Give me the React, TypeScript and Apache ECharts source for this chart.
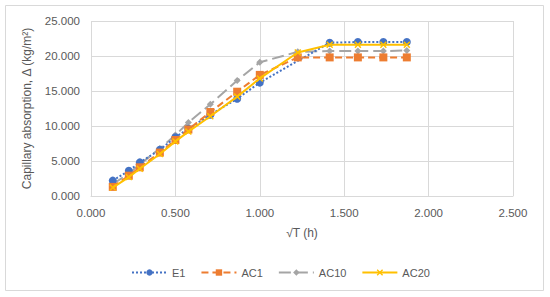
import React, { useEffect, useRef } from "react";
import * as echarts from "echarts";

const xValues = [0.129, 0.224, 0.289, 0.408, 0.5, 0.577, 0.707, 0.866, 1.0, 1.225, 1.414, 1.581, 1.732, 1.871];
const e1 = [2.2, 3.6, 4.8, 6.6, 8.4, 9.6, 11.6, 13.9, 16.2, null, 21.9, 22.0, 22.0, 22.0];
const ac1 = [1.3, 2.9, 4.1, 6.2, 8.0, 9.5, 12.0, 14.9, 17.3, 19.8, 19.8, 19.8, 19.8, 19.8];
const ac10 = [1.7, 3.2, 4.5, 6.8, 8.7, 10.5, 13.1, 16.5, 19.1, 20.6, 20.7, 20.7, 20.7, 20.8];
const ac20 = [1.2, 2.7, 3.9, 6.0, 7.8, 9.2, 11.4, 14.2, 16.8, 20.5, 21.6, 21.6, 21.6, 21.6];

const xName = "√T (h)";
const yName = "Capillary absorption, Δ (kg/m²)";

const pair = (ys: (number | null)[]) => xValues.map((x, i) => [x, ys[i] === null ? "-" : ys[i]]);

const FONT = "Liberation Sans";
const LABEL = "#595959";
const GRID = "#d9d9d9";

export default function App() {
  const ref = useRef<HTMLDivElement>(null);
  useEffect(() => {
    if (!ref.current) return;
    const chart = echarts.init(ref.current, null, { renderer: "svg" });
    const xPath = "path://M0,1.5 L1.5,0 L5,3.5 L8.5,0 L10,1.5 L6.5,5 L10,8.5 L8.5,10 L5,6.5 L1.5,10 L0,8.5 L3.5,5 Z";
    chart.setOption({
      animation: false,
      textStyle: { fontFamily: FONT },
      graphic: [
        {
          type: "rect",
          shape: { x: 5.5, y: 5.5, width: 538, height: 285 },
          style: { fill: "none", stroke: GRID, lineWidth: 1 },
          silent: true,
        },
      ],
      grid: { left: 91, right: 37, top: 21, bottom: 101 },
      xAxis: {
        type: "value",
        min: 0,
        max: 2.5,
        interval: 0.5,
        name: xName,
        nameLocation: "middle",
        nameGap: 31,
        nameTextStyle: { color: LABEL, fontSize: 12, fontFamily: FONT },
        axisLine: { show: true, lineStyle: { color: GRID } },
        axisTick: { show: false },
        axisLabel: {
          color: LABEL,
          fontSize: 11.5,
          margin: 11,
          formatter: (v: number) => v.toFixed(3),
        },
        splitLine: { show: true, lineStyle: { color: GRID } },
      },
      yAxis: {
        type: "value",
        min: 0,
        max: 25,
        interval: 5,
        name: yName,
        nameLocation: "middle",
        nameGap: 58,
        nameTextStyle: { color: LABEL, fontSize: 12, fontFamily: FONT },
        axisLine: { show: false },
        axisTick: { show: false },
        axisLabel: {
          color: LABEL,
          fontSize: 11.5,
          margin: 11,
          formatter: (v: number) => v.toFixed(3),
        },
        splitLine: { show: true, lineStyle: { color: GRID } },
      },
      legend: {
        bottom: 19,
        left: 131,
        padding: 0,
        itemWidth: 35,
        itemHeight: 8,
        itemGap: 15,
        textStyle: { color: LABEL, fontSize: 11, fontFamily: FONT },
        data: ["E1", "AC1", "AC10", "AC20"],
      },
      series: [
        {
          name: "E1",
          type: "line",
          data: pair(e1),
          connectNulls: true,
          symbol: "circle",
          symbolSize: 8,
          lineStyle: { color: "#4472C4", width: 2, type: [2, 2] },
          itemStyle: { color: "#4472C4" },
          z: 2,
        },
        {
          name: "AC1",
          type: "line",
          data: pair(ac1),
          symbol: "rect",
          symbolSize: 8,
          lineStyle: { color: "#ED7D31", width: 2, type: [7, 4] },
          itemStyle: { color: "#ED7D31" },
          z: 3,
        },
        {
          name: "AC10",
          type: "line",
          data: pair(ac10),
          symbol: "diamond",
          symbolSize: 7,
          lineStyle: { color: "#A5A5A5", width: 2, type: [12, 5] },
          itemStyle: { color: "#A5A5A5" },
          z: 1,
        },
        {
          name: "AC20",
          type: "line",
          data: pair(ac20),
          symbol: xPath,
          symbolSize: 7,
          lineStyle: { color: "#FFC000", width: 2, type: "solid" },
          itemStyle: { color: "#FFC000" },
          z: 4,
        },
      ],
    });
    return () => chart.dispose();
  }, []);
  return (
    <div
      ref={ref}
      style={{ position: "fixed", left: 0, top: 0, width: 550, height: 297, background: "#fff" }}
    />
  );
}
